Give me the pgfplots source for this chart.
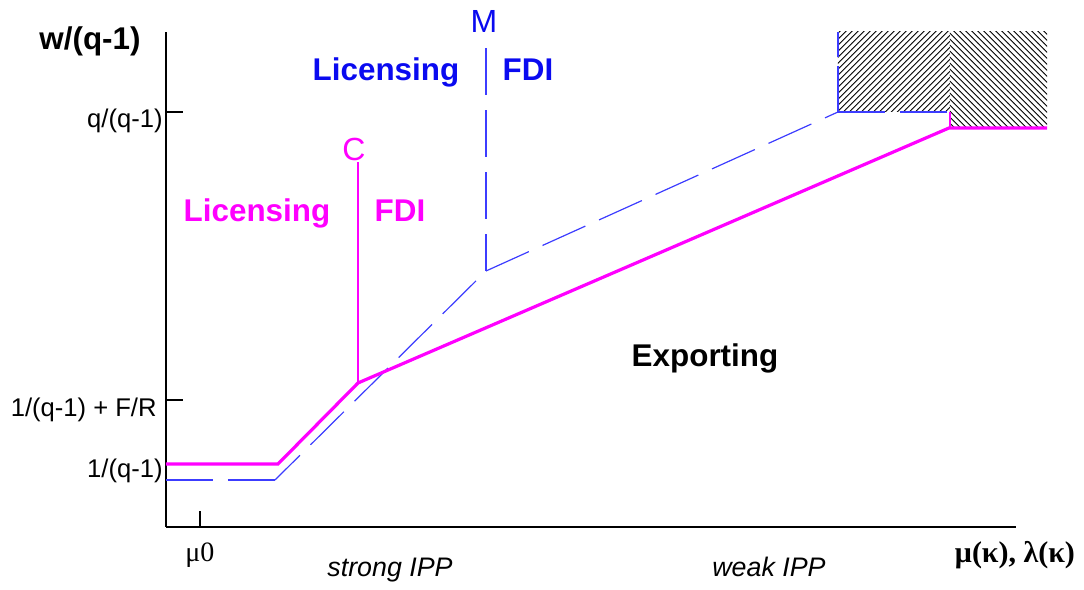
\documentclass[border=0pt]{standalone}
\usepackage{pgfplots}
\pgfplotsset{compat=1.18}
\usepackage{fontspec}
\setmainfont{Liberation Sans}
\newfontfamily\serifgr{Liberation Serif}
\usetikzlibrary{patterns}
\definecolor{txtblue}{RGB}{10,10,240}
\definecolor{lineblue}{RGB}{60,60,255}
\definecolor{mag}{RGB}{255,0,255}
\begin{document}
\begin{tikzpicture}
\begin{axis}[
  scale only axis, width=425pt, height=247.5pt,
  xmin=166, xmax=1016, ymin=-527, ymax=-32,
  axis lines=left, axis line style={-, line width=1.4pt},
  clip=false,
  xtick={200}, xticklabels={},
  ytick={-112,-400}, yticklabels={},
  major tick length=0pt,
]
% tick marks
\addplot[black, line width=1.4pt] coordinates {(166,-112) (183,-112)};
\addplot[black, line width=1.4pt] coordinates {(166,-400) (183,-400)};
\addplot[black, line width=1.4pt] coordinates {(200,-527) (200,-511)};
% hatched region
\addplot[draw=none, pattern=north east lines] coordinates {(838,-32) (950,-32) (950,-112) (838,-112)} -- cycle;
\addplot[draw=none, pattern=north west lines] coordinates {(950,-32) (1047,-32) (1047,-128) (950,-128)} -- cycle;
% blue dashed lines
\pgfplotsset{bl/.style={lineblue, line width=0.6pt, dash pattern=on 23.5pt off 7.5pt}}
\addplot[bl] coordinates {(166,-480) (275,-480)};
\addplot[bl, dash phase=6pt] coordinates {(275,-480) (486,-271)};
\addplot[bl] coordinates {(486,-271) (838,-112)};
\addplot[bl, dash phase=5pt] coordinates {(486,-271) (486,-48)};
\addplot[bl] coordinates {(838,-112) (950,-112)};
\addplot[bl] coordinates {(838,-112) (838,-66)};
\addplot[bl] coordinates {(838,-57) (838,-32)};
% magenta lines
\addplot[mag, line width=1.6pt] coordinates {(166,-464) (278,-464) (358,-383) (949,-128) (1047,-128)};
\addplot[mag, line width=1.1pt] coordinates {(358,-383) (358,-162)};
\addplot[mag, line width=1.1pt] coordinates {(950,-128) (950,-112)};
% texts
\node[font=\fontsize{15.7}{18}\selectfont\bfseries, anchor=base] at (axis cs:90,-50) {w/(q-1)};
\node[font=\fontsize{12.8}{15}\selectfont, anchor=base east, inner sep=0pt] at (axis cs:163,-128) {q/(q-1)};
\node[font=\fontsize{12.8}{15}\selectfont, anchor=base east, inner sep=0pt] at (axis cs:157,-417) {1/(q-1) + F/R};
\node[font=\fontsize{12.8}{15}\selectfont, anchor=base east, inner sep=0pt] at (axis cs:163,-478) {1/(q-1)};
\node[font=\fontsize{15.7}{18}\selectfont\bfseries, text=txtblue, anchor=base] at (axis cs:386,-81) {Licensing};
\node[font=\fontsize{15.7}{18}\selectfont\bfseries, text=txtblue, anchor=base] at (axis cs:528,-81) {FDI};
\node[font=\fontsize{16}{18}\selectfont, text=txtblue, anchor=base] at (axis cs:484,-33) {M};
\node[font=\fontsize{15.7}{18}\selectfont\bfseries, text=mag, anchor=base] at (axis cs:257,-222) {Licensing};
\node[font=\fontsize{15.7}{18}\selectfont\bfseries, text=mag, anchor=base] at (axis cs:400,-222) {FDI};
\node[font=\fontsize{16}{18}\selectfont, text=mag, anchor=base] at (axis cs:354,-161) {C};
\node[font=\fontsize{15.7}{18}\selectfont\bfseries, anchor=base] at (axis cs:705,-367) {Exporting};
\node[font=\fontsize{13.4}{15}\selectfont\itshape, anchor=base] at (axis cs:390,-577) {strong IPP};
\node[font=\fontsize{13.4}{15}\selectfont\itshape, anchor=base] at (axis cs:769,-577) {weak IPP};
\node[font=\fontsize{14}{16}\selectfont\serifgr, anchor=base] at (axis cs:200,-562) {μ0};
\node[font=\fontsize{15}{17}\selectfont\serifgr\bfseries, anchor=base] at (axis cs:1015,-563) {μ(κ), λ(κ)};
\path (axis cs:0,-583) rectangle (axis cs:1084,0);
\end{axis}
\end{tikzpicture}
\end{document}
